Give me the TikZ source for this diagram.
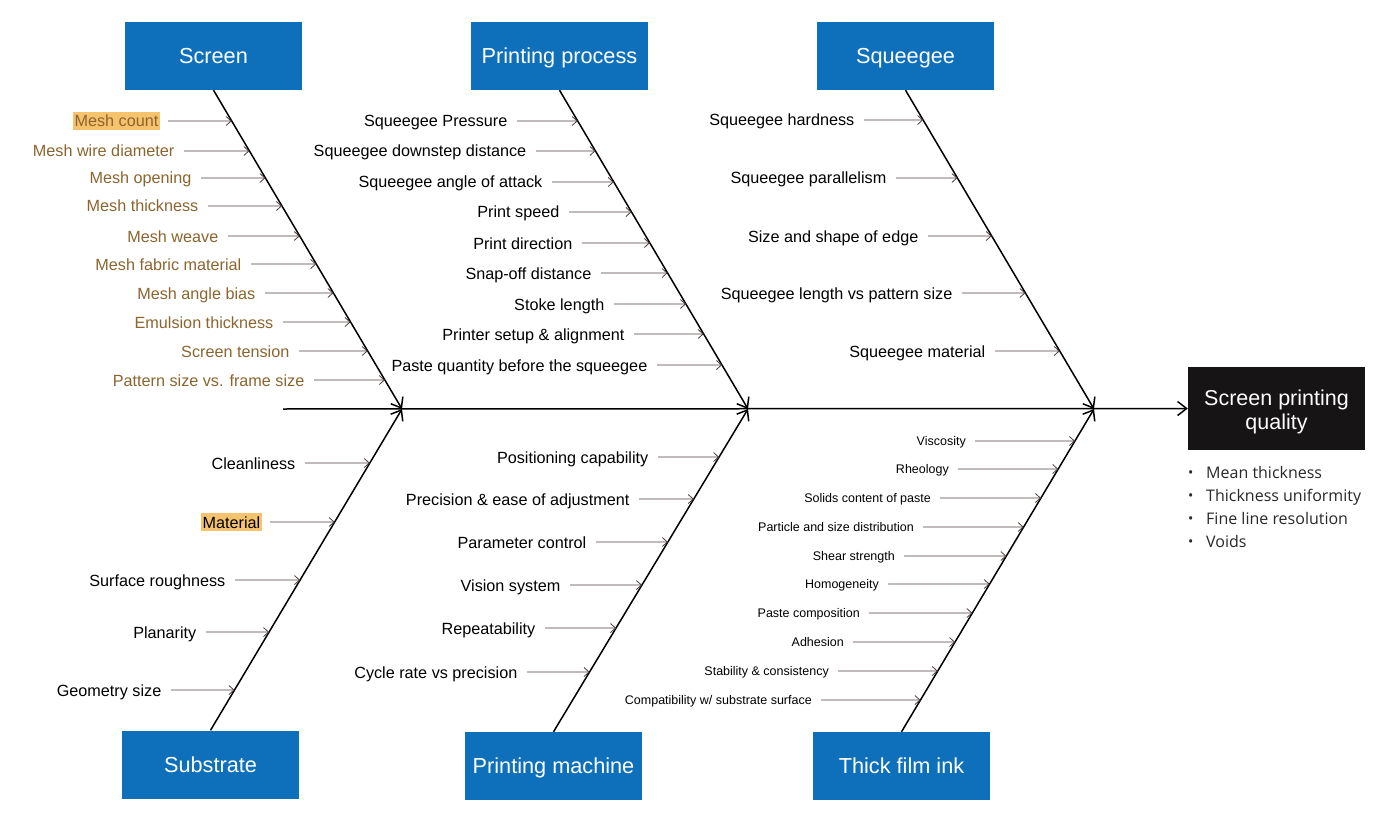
\documentclass[tikz,border=0pt]{standalone}
\usepackage{fontspec}
\setmainfont{Liberation Sans}
\newfontfamily\listfont{Open Sans}
\usetikzlibrary{arrows.meta}

\definecolor{boxblue}{RGB}{14,112,187}
\definecolor{effblack}{RGB}{22,20,20}
\definecolor{hlorange}{RGB}{245,194,110}
\definecolor{scrbrown}{RGB}{140,100,45}
\definecolor{leggray}{RGB}{80,62,62}
\definecolor{listgray}{RGB}{40,40,40}

\tikzstyle{cat} = [rectangle, fill=boxblue, text=white, minimum width=177pt, minimum height=68pt, inner sep=0pt, text height=15.5pt, text depth=0pt, font=\fontsize{21.7}{22}\selectfont]
\tikzstyle{effect} = [rectangle, fill=effblack, text=white, minimum width=177pt, minimum height=83pt, inner sep=0pt, align=center, font=\fontsize{21.5}{24}\selectfont]
\tikzstyle{bone} = [line width=1.5pt, -{Straight Barb[length=9pt,width=14pt]}]
\tikzstyle{cause} = [inner sep=1.5pt, anchor=east, text height=13.5pt, text depth=1.5pt, font=\fontsize{16.2}{17}\selectfont]
\tikzstyle{small cause} = [inner sep=1pt, anchor=east, text height=10pt, text depth=2pt, font=\fontsize{12.5}{13}\selectfont]
\tikzstyle{leg} = [draw=leggray, line width=0.8pt, shorten <=8pt, -{Straight Barb[length=5pt,width=9pt]}]
\tikzstyle{qitem} = [inner sep=0pt, anchor=west, text=listgray, text height=12pt, text depth=4pt, font=\listfont\fontsize{16}{18}\selectfont]

\begin{document}
\begin{tikzpicture}[x=1pt, y=-1pt]
	\useasboundingbox (0,0) rectangle (1400,829);

	% categories and effect
	\node[cat] (screen) at (213.5,56) {Screen};
	\node[cat] (process) at (559.5,56) {Printing process};
	\node[cat] (squeegee) at (905.5,56) {Squeegee};
	\node[cat] (substrate) at (210.5,764.5) {Substrate};
	\node[cat] (machine) at (553.5,766) {Printing machine};
	\node[cat] (ink) at (901.5,766) {Thick film ink};
	\node[effect] (quality) at (1276.5,408.5) {\rule{0pt}{21.5pt}Screen printing\\quality};

	% spine and bones
	\coordinate (tail) at (283,409);
	\coordinate (j1) at (402,409);
	\coordinate (j2) at (748,409);
	\coordinate (j3) at (1094,409);
	\draw[line width=1.5pt, -{Straight Barb[length=9pt,width=14pt]}] (tail) -- (quality.west);
	\draw[bone] (screen.south) -- (j1);
	\draw[bone] (substrate.north) -- (j1);
	\draw[bone] (process.south) -- (j2);
	\draw[bone] (machine.north) -- (j2);
	\draw[bone] (squeegee.south) -- (j3);
	\draw[bone] (ink.north) -- (j3);

	% screen
	\foreach \txt/\y/\r/\fc in {Mesh count/121/160/hlorange, Mesh wire diameter/151/176/none,
		Mesh opening/178/193/none, Mesh thickness/206/200/none, Mesh weave/236/220/none,
		Mesh fabric material/264/243/none, Mesh angle bias/293/257/none,
		Emulsion thickness/322/275/none, Screen tension/351/291/none,
		Pattern size vs. frame size/380/306/none}{
		\node[cause, text=scrbrown, fill=\fc] (sc\y) at (\r,\y) {\txt};
		\coordinate (st\y) at (intersection of screen.south--j1 and 0,\y--1,\y);
		\draw[leg] (sc\y) -- (st\y);
	}

	% printing process
	\foreach \txt/\y/\r in {Squeegee Pressure/121/509, Squeegee downstep distance/151/528,
		Squeegee angle of attack/182/544, Print speed/212/561, Print direction/243/574,
		Snap-off distance/273/593, Stoke length/304/606, Printer setup \& alignment/334/626,
		Paste quantity before the squeegee/365/649}{
		\node[cause] (pc\y) at (\r,\y) {\txt};
		\coordinate (pt\y) at (intersection of process.south--j2 and 0,\y--1,\y);
		\draw[leg] (pc\y) -- (pt\y);
	}

	% squeegee
	\foreach \txt/\y/\r in {Squeegee hardness/120/856, Squeegee parallelism/178/888,
		Size and shape of edge/236/920, Squeegee length vs pattern size/293/954,
		Squeegee material/351/987}{
		\node[cause] (qc\y) at (\r,\y) {\txt};
		\coordinate (qt\y) at (intersection of squeegee.south--j3 and 0,\y--1,\y);
		\draw[leg] (qc\y) -- (qt\y);
	}

	% substrate
	\foreach \txt/\y/\r/\fc in {Cleanliness/463/297/none, Material/522/262/hlorange,
		Surface roughness/580/227/none, Planarity/632/198/none, Geometry size/690/163/none}{
		\node[cause, fill=\fc] (bc\y) at (\r,\y) {\txt};
		\coordinate (bt\y) at (intersection of substrate.north--j1 and 0,\y--1,\y);
		\draw[leg] (bc\y) -- (bt\y);
	}

	% printing machine
	\foreach \txt/\y/\r in {Positioning capability/457/650, Precision \& ease of adjustment/499/631,
		Parameter control/542/588, Vision system/585/562, Repeatability/628/537,
		Cycle rate vs precision/672/519}{
		\node[cause] (mc\y) at (\r,\y) {\txt};
		\coordinate (mt\y) at (intersection of machine.north--j2 and 0,\y--1,\y);
		\draw[leg] (mc\y) -- (mt\y);
	}

	% thick film ink
	\foreach \txt/\y/\r in {Viscosity/441/967, Rheology/469/950, Solids content of paste/498/932,
		Particle and size distribution/527/915, Shear strength/556/896, Homogeneity/584/880,
		Paste composition/613/861, Adhesion/642/845, Stability \& consistency/671/830,
		{Compatibility w/ substrate surface}/700/813}{
		\node[small cause] (ic\y) at (\r,\y) {\txt};
		\coordinate (it\y) at (intersection of ink.north--j3 and 0,\y--1,\y);
		\draw[leg] (ic\y) -- (it\y);
	}

	% quality measures
	\foreach \q [count=\i] in {Mean thickness, Thickness uniformity, Fine line resolution, Voids}
		\node[qitem] (q\i) at (1188,451+23*\i) {\makebox[18pt][l]{\fontsize{14}{14}\selectfont\raisebox{0.5pt}{•}}\q};
\end{tikzpicture}
\end{document}
